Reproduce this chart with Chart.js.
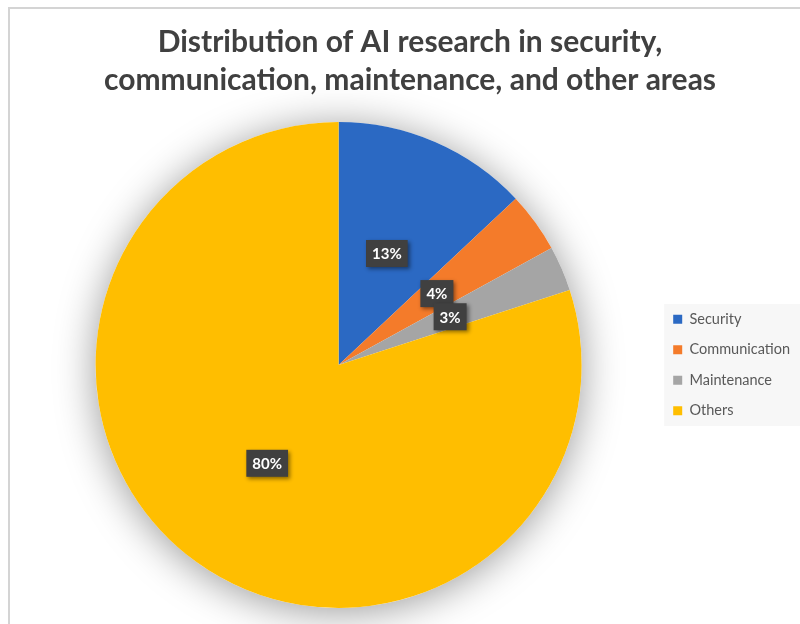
<!DOCTYPE html>
<html>
<head>
<meta charset="utf-8">
<script src="https://cdn.jsdelivr.net/npm/chart.js@4/dist/chart.umd.min.js"></script>
<style>
  html, body { margin: 0; padding: 0; background: #fff; }
  #wrap { position: relative; width: 800px; height: 624px; overflow: hidden; }
  #frame {
    position: absolute; left: 8px; top: 7px; width: 900px; height: 700px;
    border-left: 2px solid #d4d4d4; border-top: 2px solid #d4d4d4;
    pointer-events: none;
  }
  canvas { position: absolute; left: 0; top: 0; }
</style>
</head>
<body>
<div id="wrap">
  <canvas id="pie" width="800" height="624"></canvas>
  <div id="frame"></div>
</div>
<script>
const categories = ["Security", "Communication", "Maintenance", "Others"];
const shares = [13, 4, 3, 80];
const sliceColors = ["#2B69C3", "#F47B2A", "#A5A5A5", "#FFBE00"];
const titleLines = [
  "Distribution of AI research in security,",
  "communication, maintenance, and other areas"
];

// soft grey halo behind the whole pie
const pieHalo = {
  id: "pieHalo",
  beforeDatasetsDraw(chart) {
    const arc = chart.getDatasetMeta(0).data[0];
    if (!arc) return;
    const ctx = chart.ctx;
    ctx.save();
    ctx.shadowColor = "rgba(0,0,0,0.40)";
    ctx.shadowBlur = 40;
    ctx.shadowOffsetY = 4;
    ctx.fillStyle = "#ffffff";
    ctx.beginPath();
    ctx.arc(arc.x, arc.y, arc.outerRadius, 0, Math.PI * 2);
    ctx.fill();
    ctx.restore();
  }
};

// dark value tags at each slice centroid
const sliceTags = {
  id: "sliceTags",
  afterDatasetsDraw(chart) {
    const ctx = chart.ctx;
    const meta = chart.getDatasetMeta(0);
    ctx.save();
    ctx.font = "bold 15px Lato, 'Open Sans', sans-serif";
    ctx.textAlign = "center";
    ctx.textBaseline = "middle";
    meta.data.forEach((arc, i) => {
      const pos = arc.tooltipPosition();
      const text = shares[i] + "%";
      const w = ctx.measureText(text).width + 12;
      const h = 27;
      ctx.save();
      ctx.shadowColor = "rgba(0,0,0,0.45)";
      ctx.shadowBlur = 4;
      ctx.shadowOffsetX = 2;
      ctx.shadowOffsetY = 2;
      ctx.fillStyle = "#404040";
      ctx.fillRect(pos.x - w / 2, pos.y - h / 2, w, h);
      ctx.restore();
      ctx.fillStyle = "#ffffff";
      ctx.fillText(text, pos.x, pos.y + 1);
    });
    ctx.restore();
  }
};

// pale panel behind the legend items
const legendPanel = {
  id: "legendPanel",
  beforeDraw(chart) {
    const boxes = chart.legend && chart.legend.legendHitBoxes;
    if (!boxes || !boxes.length) return;
    const first = boxes[0];
    const last = boxes[boxes.length - 1];
    const ctx = chart.ctx;
    ctx.save();
    ctx.fillStyle = "#f7f7f7";
    ctx.fillRect(first.left - 9, first.top - 8, chart.width - first.left + 9, last.top + last.height - first.top + 16);
    ctx.restore();
  }
};

new Chart(document.getElementById("pie"), {
  type: "pie",
  data: {
    labels: categories,
    datasets: [{
      data: shares,
      backgroundColor: sliceColors,
      borderWidth: 0
    }]
  },
  options: {
    responsive: false,
    animation: false,
    layout: { padding: { left: 20, right: 0, top: 0, bottom: 16 } },
    plugins: {
      tooltip: { enabled: false },
      title: {
        display: true,
        text: titleLines,
        color: "#404040",
        font: { family: "Lato, 'Open Sans', sans-serif", size: 30, weight: "bold", lineHeight: 1.25 },
        padding: { top: 24, bottom: 23 }
      },
      legend: {
        position: "right",
        fullSize: false,
        labels: {
          color: "#595959",
          font: { family: "Lato, 'Open Sans', sans-serif", size: 14.5 },
          boxWidth: 9,
          boxHeight: 9,
          padding: 16
        }
      }
    }
  },
  plugins: [pieHalo, sliceTags, legendPanel]
});
</script>
</body>
</html>
